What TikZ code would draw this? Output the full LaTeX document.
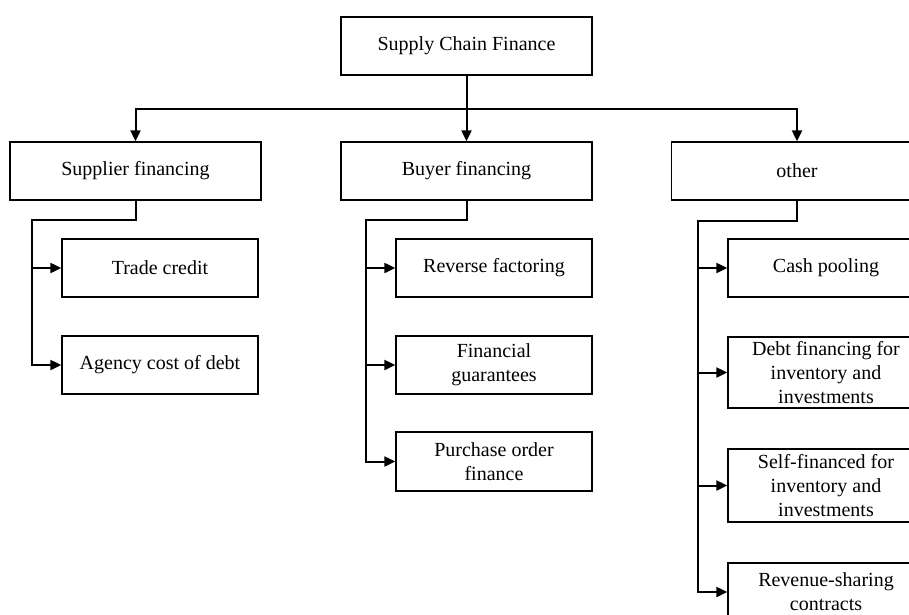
\documentclass[tikz,border=0pt]{standalone}
\usepackage{fontspec}
\setmainfont{Liberation Serif}
\usepackage{tikz}
\usetikzlibrary{arrows.meta}
\tikzset{
    common/.style={draw, rectangle, line width=1.3pt, align=center, inner sep=1pt, font=\fontsize{20}{24}\selectfont},
    head/.style={common, minimum width=251pt, minimum height=58pt},
    item/.style={common, minimum width=196pt, minimum height=58pt},
    link/.style={line width=2pt, -{Triangle[length=11pt, width=10pt]}}
}

\begin{document}
\begin{tikzpicture}[x=1pt, y=-1pt]
              \useasboundingbox (0,0) rectangle (909,614);

              \node[head] (scf) at (466.5,46) {Supply Chain Finance};
              \node[head] (supplier) at (135.5,171) {Supplier financing};
              \node[head] (buyer) at (466.5,171) {Buyer financing};
              \node[head] (other) at (797,171) {other};

              \node[item] (trade) at (160,268) {Trade credit};
              \node[item] (agency) at (160,365) {Agency cost of debt};

              \node[item] (reverse) at (494,268) {Reverse factoring};
              \node[item] (guarantee) at (494,365) {Financial\\guarantees};
              \node[item, minimum height=59pt] (purchase) at (494,461.5) {Purchase order\\finance};

              \node[item] (cash) at (826,268) {Cash pooling};
              \node[item, minimum height=71pt] (debt) at (826,372.5) {Debt financing for\\inventory and\\investments};
              \node[item, minimum height=73pt] (self) at (826,485.5) {Self-financed for\\inventory and\\investments};
              \node[item] (revenue) at (826,592) {Revenue-sharing\\contracts};

              \coordinate (sup-turn) at (32,220);
              \coordinate (buy-turn) at (366,220);
              \coordinate (oth-turn) at (698,221);

              % top level
              \draw[link] (scf.south) -- ++(0,33) -| (supplier.north);
              \draw[link] (scf.south) -- (buyer.north);
              \draw[link] (scf.south) -- ++(0,33) -| (other.north);

              % supplier side
              \draw[link] (supplier.south) |- (sup-turn) |- (trade.west);
              \draw[link] (supplier.south) |- (sup-turn) |- (agency.west);

              % buyer side
              \draw[link] (buyer.south) |- (buy-turn) |- (reverse.west);
              \draw[link] (buyer.south) |- (buy-turn) |- (guarantee.west);
              \draw[link] (buyer.south) |- (buy-turn) |- (purchase.west);

              % other
              \draw[link] (other.south) |- (oth-turn) |- (cash.west);
              \draw[link] (other.south) |- (oth-turn) |- (debt.west);
              \draw[link] (other.south) |- (oth-turn) |- (self.west);
              \draw[link] (other.south) |- (oth-turn) |- (revenue.west);

          \end{tikzpicture}
\end{document}
